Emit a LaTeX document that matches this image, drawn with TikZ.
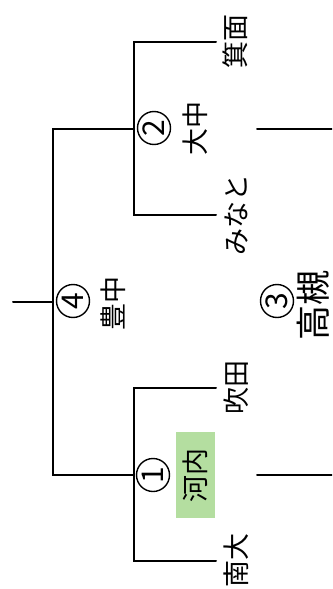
\documentclass[tikz,border=0pt]{standalone}
\usepackage{fontspec}
\usepackage{tkz-euclide}
\setmainfont{Noto Sans CJK JP}
\definecolor{winbg}{RGB}{180,222,160}
\tikzset{
    bracket/.style={line width=2pt, line join=miter},
    team/.style={rotate=90, inner sep=0pt, font=\fontsize{27}{27}\selectfont},
    matchno/.style={draw, circle, line width=1.4pt, minimum size=33pt, inner sep=0pt, rotate=90, font=\fontsize{30}{30}\selectfont},
}

\begin{document}
\begin{tikzpicture}[x=1pt, y=-1pt]
    \clip (0,0) rectangle (332,589);
    \tkzDefPoints{13/302/F0,53/302/F,53/129/S1,53/475/S2,134/129/M2,134/475/M1}
    \tkzDefPoints{134/42/A,134/215/B,216/42/A2,216/215/B2}
    \tkzDefPoints{134/388/C,134/561/D,216/388/C2,216/561/D2}
    \tkzDefPoints{257/129/R2,332/129/R2e,257/475/R1,332/475/R1e}
    \tkzDrawPolySeg[bracket](A2,A,B,B2)
    \tkzDrawPolySeg[bracket](C2,C,D,D2)
    \tkzDrawPolySeg[bracket](M2,S1,S2,M1)
    \tkzDrawSegments[bracket](F0,F R2,R2e R1,R1e)
    \node[team] (minoh) at (235,41) {箕面};
    \node[team] (minato) at (236,215) {みなと};
    \node[team] (suita) at (236,387) {吹田};
    \node[team] (nandai) at (236,560) {南大};
    \node[team] (daichu) at (195,128) {大中};
    \node[team] (toyonaka) at (113,303) {豊中};
    \node[team, font=\fontsize{35}{35}\selectfont] (takatsuki) at (313,305) {高槻};
    \node[team, fill=winbg, minimum width=86pt, minimum height=39pt] (kawachi) at (195,475) {河内};
    \node[matchno] (m1) at (153,475) {1};
    \node[matchno] (m2) at (154,128) {2};
    \node[matchno] (m3) at (277,301) {3};
    \node[matchno] (m4) at (73,301) {4};
\end{tikzpicture}
\end{document}
